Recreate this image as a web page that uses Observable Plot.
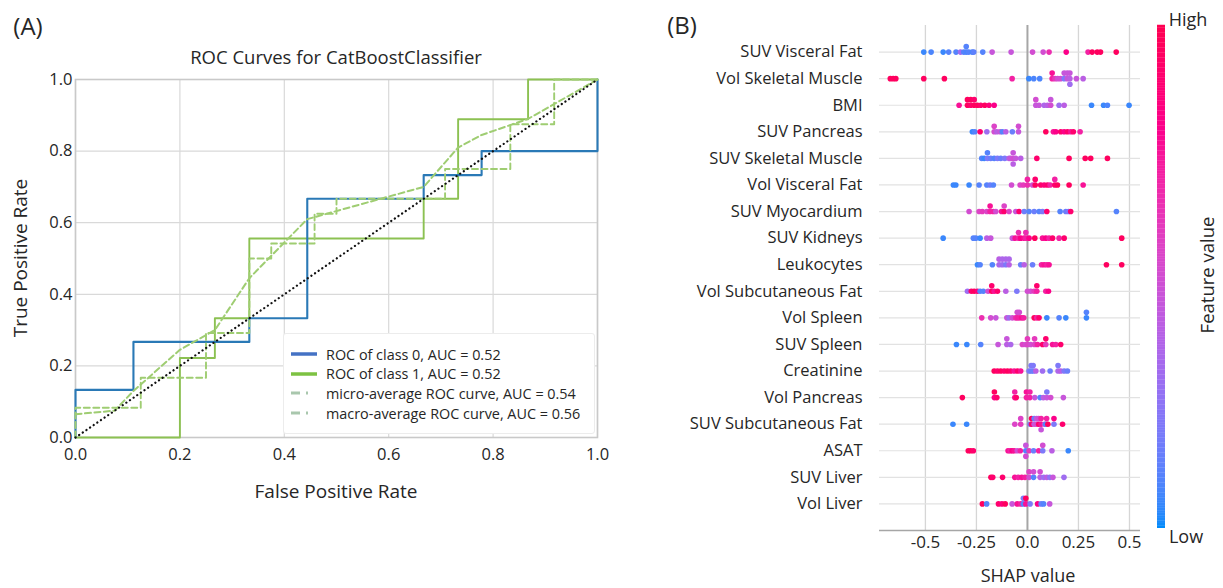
<!DOCTYPE html>
<html>
<head>
<meta charset="utf-8">
<script src="https://cdn.jsdelivr.net/npm/d3@7"></script>
<script src="https://cdn.jsdelivr.net/npm/@observablehq/plot@0.6"></script>
<style>
  html, body { margin: 0; padding: 0; background: #fff; }
  #root { position: relative; width: 1223px; height: 588px; overflow: hidden; font-family: "Open Sans", sans-serif; color: #262626; }
  .abs { position: absolute; white-space: nowrap; line-height: 1; }
  .ctr { transform: translate(-50%, -50%); }
  .rot { transform: translate(-50%, -50%) rotate(-90deg); }
  #legendA { position: absolute; left: 283px; top: 333px; width: 312px; height: 101px; background: #fff; border: 1px solid #ececec; border-radius: 3px; box-sizing: border-box; }
  #legendA .row { position: absolute; left: 0; height: 18px; display: flex; align-items: center; font-size: 14.4px; white-space: nowrap; }
  #legendA svg { margin-left: 7px; margin-right: 9px; flex: none; }
</style>
</head>
<body>
<div id="root"></div>
<script>
// ---------------- Panel A data: ROC curves ----------------
const rocTicks = [0, 0.2, 0.4, 0.6, 0.8, 1.0];
const fprClass0 = [0, 0, 0.111, 0.111, 0.333, 0.333, 0.444, 0.444, 0.667, 0.667, 0.778, 0.778, 1, 1];
const tprClass0 = [0, 0.133, 0.133, 0.267, 0.267, 0.333, 0.333, 0.667, 0.667, 0.733, 0.733, 0.8, 0.8, 1];
const fprClass1 = [0, 0.2, 0.2, 0.267, 0.267, 0.333, 0.333, 0.667, 0.667, 0.733, 0.733, 0.867, 0.867, 1];
const tprClass1 = [0, 0, 0.222, 0.222, 0.333, 0.333, 0.556, 0.556, 0.667, 0.667, 0.889, 0.889, 1, 1];
const fprMicro = [0, 0, 0.125, 0.125, 0.25, 0.25, 0.333, 0.333, 0.375, 0.375, 0.458, 0.458, 0.5, 0.5, 0.708, 0.708, 0.833, 0.833, 0.917, 0.917, 1];
const tprMicro = [0, 0.083, 0.083, 0.167, 0.167, 0.292, 0.292, 0.5, 0.5, 0.542, 0.542, 0.625, 0.625, 0.667, 0.667, 0.75, 0.75, 0.875, 0.875, 1, 1];
const fprMacro = [0, 0.075, 0.111, 0.2, 0.267, 0.333, 0.444, 0.667, 0.733, 0.778, 0.867, 1];
const tprMacro = [0.065, 0.075, 0.13, 0.245, 0.3, 0.445, 0.61, 0.70, 0.81, 0.845, 0.89, 1];
const chanceFpr = [0, 1];
const chanceTpr = [0, 1];
const legendLabels = [
  "ROC of class 0, AUC = 0.52",
  "ROC of class 1, AUC = 0.52",
  "micro-average ROC curve, AUC = 0.54",
  "macro-average ROC curve, AUC = 0.56"
];

// ---------------- Panel B data: SHAP summary ----------------
const features = ["SUV Visceral Fat", "Vol Skeletal Muscle", "BMI", "SUV Pancreas", "SUV Skeletal Muscle",
  "Vol Visceral Fat", "SUV Myocardium", "SUV Kidneys", "Leukocytes", "Vol Subcutaneous Fat", "Vol Spleen",
  "SUV Spleen", "Creatinine", "Vol Pancreas", "SUV Subcutaneous Fat", "ASAT", "SUV Liver", "Vol Liver"];
const shapTicks = [-0.5, -0.25, 0, 0.25, 0.5];
const shapTickLabels = ["-0.5", "-0.25", "0.0", "0.25", "0.5"];
// each entry: [SHAP value, normalised feature value]
const suvVisceralFat = [[-0.508,0.05],[-0.472,0.08],[-0.413,0.05],[-0.386,0.1],[-0.35,0.1],[-0.328,0.3],[-0.312,0.1],[-0.30,0.08],[-0.30,0.1],[-0.288,0.1],[-0.271,0.08],[-0.263,0.12],[-0.219,0.1],[-0.173,0.45],[-0.08,0.45],[0.025,0.5],[0.077,0.5],[0.106,0.65],[0.19,0.8],[0.297,0.7],[0.317,0.95],[0.342,0.95],[0.358,0.95],[0.435,0.95]];
const volSkeletalMuscle = [[-0.672,0.95],[-0.658,0.95],[-0.645,0.95],[-0.508,0.95],[-0.407,0.95],[-0.075,0.7],[0.007,0.05],[0.031,0.08],[0.06,0.08],[0.121,0.7],[0.121,0.75],[0.135,0.6],[0.148,0.5],[0.162,0.5],[0.18,0.2],[0.18,0.45],[0.195,0.45],[0.195,0.45],[0.208,0.4],[0.208,0.45],[0.208,0.3],[0.24,0.45],[0.273,0.4]];
const bmi = [[-0.335,0.75],[-0.294,0.95],[-0.294,0.95],[-0.278,0.9],[-0.278,0.95],[-0.261,0.95],[-0.261,0.9],[-0.245,0.95],[-0.229,0.9],[-0.209,0.95],[-0.188,0.85],[-0.163,0.8],[0.041,0.45],[0.041,0.5],[0.057,0.45],[0.082,0.35],[0.098,0.4],[0.114,0.5],[0.114,0.45],[0.155,0.3],[0.18,0.4],[0.314,0.05],[0.373,0.05],[0.392,0.08],[0.498,0.05]];
const suvPancreas = [[-0.27,0.05],[-0.258,0.1],[-0.232,0.9],[-0.199,0.3],[-0.163,0.5],[-0.163,0.55],[-0.15,0.4],[-0.134,0.45],[-0.123,0.1],[-0.106,0.4],[-0.074,0.15],[-0.044,0.45],[-0.044,0.5],[0.09,0.95],[0.127,0.75],[0.139,0.8],[0.163,0.9],[0.18,0.8],[0.196,0.9],[0.212,0.75],[0.225,0.9],[0.258,0.7]];
const suvSkeletalMuscle = [[-0.224,0.1],[-0.212,0.05],[-0.196,0.2],[-0.196,0.1],[-0.18,0.15],[-0.163,0.1],[-0.147,0.2],[-0.131,0.15],[-0.111,0.2],[-0.09,0.4],[-0.082,0.45],[-0.07,0.5],[-0.07,0.45],[-0.07,0.4],[-0.058,0.45],[-0.033,0.4],[0.046,0.9],[0.204,0.95],[0.283,0.95],[0.31,0.95],[0.392,0.95]];
const volVisceralFat = [[-0.363,0.05],[-0.351,0.05],[-0.286,0.05],[-0.237,0.1],[-0.199,0.1],[-0.183,0.15],[-0.167,0.1],[-0.078,0.5],[-0.036,0.55],[-0.02,0.6],[0,0.65],[0,0.7],[0.025,0.5],[0.038,0.95],[0.038,0.9],[0.065,0.9],[0.082,0.85],[0.098,0.9],[0.111,0.7],[0.134,0.9],[0.134,0.7],[0.147,0.95],[0.204,0.95],[0.273,0.75]];
const suvMyocardium = [[-0.286,0.5],[-0.237,0.55],[-0.221,0.6],[-0.199,0.55],[-0.183,0.7],[-0.183,0.75],[-0.167,0.7],[-0.155,0.5],[-0.127,0.75],[-0.114,0.9],[-0.114,0.55],[-0.09,0.55],[-0.057,0.45],[-0.041,0.9],[-0.016,0.15],[0.008,0.1],[0.033,0.15],[0.057,0.1],[0.074,0.2],[0.095,0.9],[0.16,0.1],[0.188,0.15],[0.201,0.2],[0.212,0.9],[0.436,0.1]];
const suvKidneys = [[-0.413,0.05],[-0.265,0.1],[-0.253,0.1],[-0.232,0.05],[-0.199,0.4],[-0.18,0.45],[-0.074,0.45],[-0.06,0.75],[-0.044,0.7],[-0.044,0.65],[-0.033,0.8],[-0.016,0.75],[-0.008,0.7],[-0.008,0.65],[0.008,0.8],[0.036,0.95],[0.074,0.75],[0.09,0.8],[0.106,0.7],[0.123,0.9],[0.155,0.7],[0.18,0.9],[0.462,0.95]];
const leukocytes = [[-0.245,0.05],[-0.232,0.1],[-0.172,0.1],[-0.139,0.35],[-0.139,0.4],[-0.123,0.3],[-0.123,0.35],[-0.106,0.2],[-0.106,0.35],[-0.09,0.4],[-0.09,0.35],[-0.033,0.15],[-0.016,0.4],[0.025,0.15],[0.069,0.7],[0.082,0.75],[0.095,0.7],[0.106,0.75],[0.387,0.95],[0.462,0.95]];
const volSubcutaneousFat = [[-0.294,0.3],[-0.275,0.9],[-0.261,0.95],[-0.245,0.85],[-0.232,0.1],[-0.216,0.1],[-0.193,0.5],[-0.175,0.95],[-0.175,0.9],[-0.163,0.75],[-0.147,0.9],[-0.106,0.4],[-0.052,0.2],[0,0.5],[0.016,0.5],[0.033,0.6],[0.046,0.7],[0.046,0.9],[0.09,0.7],[0.103,0.8]];
const volSpleen = [[-0.224,0.65],[-0.18,0.5],[-0.155,0.45],[-0.101,0.45],[-0.09,0.3],[-0.074,0.5],[-0.058,0.65],[-0.05,0.7],[-0.05,0.5],[-0.04,0.7],[-0.04,0.5],[-0.028,0.75],[-0.018,0.7],[0.033,0.95],[0.046,0.7],[0.057,0.9],[0.095,0.05],[0.155,0.1],[0.188,0.05],[0.289,0.05],[0.289,0.1]];
const suvSpleen = [[-0.348,0.05],[-0.297,0.05],[-0.229,0.1],[-0.144,0.45],[-0.101,0.4],[-0.101,0.45],[-0.082,0.35],[-0.025,0.55],[-0.008,0.5],[0,0.55],[0,0.6],[0.016,0.5],[0.035,0.55],[0.035,0.6],[0.049,0.7],[0.074,0.9],[0.09,0.6],[0.09,0.9],[0.123,0.75],[0.139,0.7],[0.163,0.9]];
const creatinine = [[-0.163,0.95],[-0.147,0.9],[-0.131,0.95],[-0.114,0.9],[-0.098,0.95],[-0.082,0.9],[-0.065,0.75],[-0.049,0.9],[-0.033,0.75],[0.008,0.2],[0.018,0.15],[0.018,0.2],[0.028,0.15],[0.028,0.2],[0.041,0.4],[0.074,0.3],[0.111,0.15],[0.15,0.35],[0.15,0.2],[0.163,0.4],[0.18,0.2],[0.196,0.15]];
const volPancreas = [[-0.319,0.95],[-0.162,0.8],[-0.162,0.95],[-0.15,0.9],[-0.062,0.75],[-0.062,0.7],[-0.055,0.9],[-0.005,0.7],[-0.005,0.75],[0.012,0.7],[0.012,0.7],[0.036,0.45],[0.062,0.1],[0.078,0.4],[0.095,0.45],[0.095,0.2],[0.114,0.5],[0.176,0.45]];
const suvSubcutaneousFat = [[-0.365,0.05],[-0.298,0.05],[-0.062,0.55],[-0.033,0.6],[-0.033,0.55],[0.013,0.2],[0.02,0.9],[0.02,0.95],[0.033,0.45],[0.033,0.15],[0.045,0.5],[0.045,0.45],[0.055,0.9],[0.055,0.5],[0.067,0.75],[0.067,0.7],[0.067,0.45],[0.084,0.5],[0.089,0.1],[0.094,0.7],[0.1,0.95],[0.13,0.2],[0.13,0.8],[0.172,0.9]];
const asat = [[-0.29,0.95],[-0.278,0.95],[-0.265,0.9],[-0.095,0.75],[-0.085,0.7],[-0.075,0.8],[-0.065,0.75],[-0.05,0.5],[-0.035,0.7],[-0.008,0.1],[-0.008,0.45],[-0.008,0.5],[0.008,0.6],[0.03,0.15],[0.055,0.7],[0.075,0.2],[0.075,0.5],[0.12,0.4],[0.2,0.05]];
const suvLiver = [[-0.179,0.95],[-0.17,0.9],[-0.122,0.9],[-0.062,0.75],[-0.045,0.7],[-0.028,0.75],[-0.012,0.7],[0.008,0.5],[0.008,0.55],[0.03,0.1],[0.03,0.5],[0.062,0.4],[0.062,0.5],[0.08,0.3],[0.095,0.4],[0.11,0.25],[0.125,0.45],[0.179,0.3]];
const volLiver = [[-0.221,0.95],[-0.2,0.1],[-0.142,0.9],[-0.125,0.85],[-0.109,0.95],[-0.075,0.45],[-0.05,0.75],[-0.033,0.7],[-0.02,0.1],[-0.02,0.2],[-0.008,0.75],[-0.008,0.95],[0.013,0.2],[0.05,0.8],[0.067,0.15],[0.079,0.1],[0.109,0.45]];
const shapRows = [suvVisceralFat, volSkeletalMuscle, bmi, suvPancreas, suvSkeletalMuscle, volVisceralFat,
  suvMyocardium, suvKidneys, leukocytes, volSubcutaneousFat, volSpleen, suvSpleen, creatinine, volPancreas,
  suvSubcutaneousFat, asat, suvLiver, volLiver];

// ---------------- helpers ----------------
const root = document.getElementById("root");
function place(node, left, top) {
  node.style.position = "absolute"; node.style.left = left + "px"; node.style.top = top + "px";
  root.appendChild(node); return node;
}
function label(text, x, y, size, cls) {
  const d = document.createElement("div");
  d.className = "abs " + (cls || "ctr");
  d.textContent = text; d.style.left = x + "px"; d.style.top = y + "px"; d.style.fontSize = size + "px";
  root.appendChild(d); return d;
}
const zip = (xs, ys) => xs.map((x, i) => ({x, y: ys[i]}));

// ---------------- Panel A ----------------
const fmt1 = d3.format(".1f");
const green = "#8cc152", blue = "#2a79b6", dashGreen = "#9fcd72";
const rocPlot = Plot.plot({
  width: 620, height: 520,
  marginLeft: 75, marginRight: 23, marginTop: 79, marginBottom: 83,
  style: {fontFamily: "Open Sans", color: "#262626", background: "transparent"},
  x: {domain: [0, 1]},
  y: {domain: [0, 1]},
  marks: [
    Plot.gridX(rocTicks, {stroke: "#d9d9d9", strokeOpacity: 1, strokeWidth: 1.2}),
    Plot.gridY(rocTicks, {stroke: "#d9d9d9", strokeOpacity: 1, strokeWidth: 1.2}),
    Plot.frame({stroke: "#c9c9c9", strokeWidth: 1.6}),
    Plot.axisX(rocTicks, {tickFormat: fmt1, tickSize: 0, tickPadding: 11, fontSize: 16.5, label: null}),
    Plot.axisY(rocTicks, {tickFormat: fmt1, tickSize: 0, tickPadding: 3, fontSize: 16.5, label: null}),
    Plot.line(zip(fprClass1, tprClass1), {x: "x", y: "y", stroke: green, strokeWidth: 1.9}),
    Plot.line(zip(fprClass0, tprClass0), {x: "x", y: "y", stroke: blue, strokeWidth: 2.1}),
    Plot.line(zip(fprMicro, tprMicro), {x: "x", y: "y", stroke: dashGreen, strokeWidth: 1.9, strokeDasharray: "6,3.5"}),
    Plot.line(zip(fprMacro, tprMacro), {x: "x", y: "y", stroke: dashGreen, strokeWidth: 2, strokeDasharray: "6,3.5"}),
    Plot.line(zip(chanceFpr, chanceTpr), {x: "x", y: "y", stroke: "#111", strokeWidth: 2.2, strokeDasharray: "0.1,4.3", strokeLinecap: "round"})
  ]
});
place(rocPlot, 0, 0);

label("(A)", 28, 26, 24);
label("ROC Curves for CatBoostClassifier", 336, 57, 18.5);
label("True Positive Rate", 20, 258, 19, "rot");
label("False Positive Rate", 336, 491, 19);

// legend of panel A
const legend = document.createElement("div");
legend.id = "legendA";
const legendStyles = [
  {stroke: "#4472c4", w: 3.5, dash: null},
  {stroke: "#7dc242", w: 3.5, dash: null},
  {stroke: "#a9c7ad", w: 3, dash: "9,6,2,20"},
  {stroke: "#a9c7ad", w: 3, dash: "9,6,2,20"}
];
legendLabels.forEach((t, i) => {
  const row = document.createElement("div");
  row.className = "row";
  row.style.top = (11 + i * 19.7) + "px";
  const s = legendStyles[i];
  row.innerHTML = `<svg width="26" height="8"><line x1="0" y1="4" x2="26" y2="4" stroke="${s.stroke}" stroke-width="${s.w}" ${s.dash ? `stroke-dasharray="${s.dash}"` : ""}/></svg><span>${t}</span>`;
  legend.appendChild(row);
});
root.appendChild(legend);

// ---------------- Panel B ----------------
function swarm(vals) {
  const xs = vals.map(d => d[0]);
  const mn = d3.min(xs), mx = d3.max(xs);
  const q = xs.map(x => Math.round(100 * (x - mn) / (mx - mn + 1e-8)));
  const idx = d3.range(vals.length).sort((a, b) => q[a] - q[b] || a - b);
  const ys = new Array(vals.length).fill(0);
  let layer = 0, last = -1;
  for (const i of idx) {
    if (q[i] !== last) layer = 0;
    ys[i] = Math.ceil(layer / 2) * ((layer % 2) * 2 - 1);
    layer++; last = q[i];
  }
  return ys;
}
const layerStep = 0.21;
const shapPoints = [];
shapRows.forEach((rows, r) => {
  const ys = swarm(rows);
  rows.forEach((d, i) => shapPoints.push({shap: d[0], fv: d[1], row: r - ys[i] * layerStep}));
});
const rowIndex = features.map((f, i) => i);
const yDomain = [-1, 18];
const colorOpts = {type: "linear", domain: [0, 1], range: ["#008bfb", "#ff0051"], interpolate: "hcl"};

const shapPlot = Plot.plot({
  width: 480, height: 588,
  marginLeft: 209, marginRight: 10, marginTop: 25, marginBottom: 58,
  style: {fontFamily: "Open Sans", color: "#262626", background: "transparent"},
  x: {domain: [-0.725, 0.554]},
  y: {domain: yDomain, reverse: true},
  color: colorOpts,
  marks: [
    Plot.ruleX(shapTicks.filter(d => d !== 0), {stroke: "#d6d6d6", strokeWidth: 1.3}),
    Plot.ruleY(rowIndex, {y: d => d, stroke: "#e2e2e2", strokeWidth: 1.2}),
    Plot.ruleX([0], {stroke: "#a6a6a6", strokeWidth: 2}),
    Plot.ruleY([yDomain[1]], {stroke: "#a6a6a6", strokeWidth: 1.3}),
    Plot.axisX(shapTicks, {tickFormat: (d, i) => shapTickLabels[i], tickSize: 0, tickPadding: 5, fontSize: 17, label: null}),
    Plot.axisY(rowIndex, {tickFormat: i => features[i], tickSize: 0, tickPadding: 17, fontSize: 16.5, label: null}),
    Plot.dot(shapPoints, {x: "shap", y: "row", fill: "fv", r: 2.8})
  ]
});
place(shapPlot, 670, 0);

// colour bar
const barStops = d3.range(0, 1, 0.005);
const barPlot = Plot.plot({
  width: 22, height: 588,
  marginLeft: 7, marginRight: 7, marginTop: 25, marginBottom: 60,
  x: {axis: null}, y: {domain: [0, 1], axis: null},
  color: colorOpts,
  marks: [Plot.rect(barStops, {y1: d => d, y2: d => d + 0.0055, fill: d => d})]
});
place(barPlot, 1150, 0);

label("(B)", 682, 25, 24);
label("SHAP value", 1028, 575, 18);
label("High", 1188, 19, 18);
label("Low", 1186, 536, 18);
label("Feature value", 1207, 275, 18.5, "rot");
</script>
</body>
</html>
